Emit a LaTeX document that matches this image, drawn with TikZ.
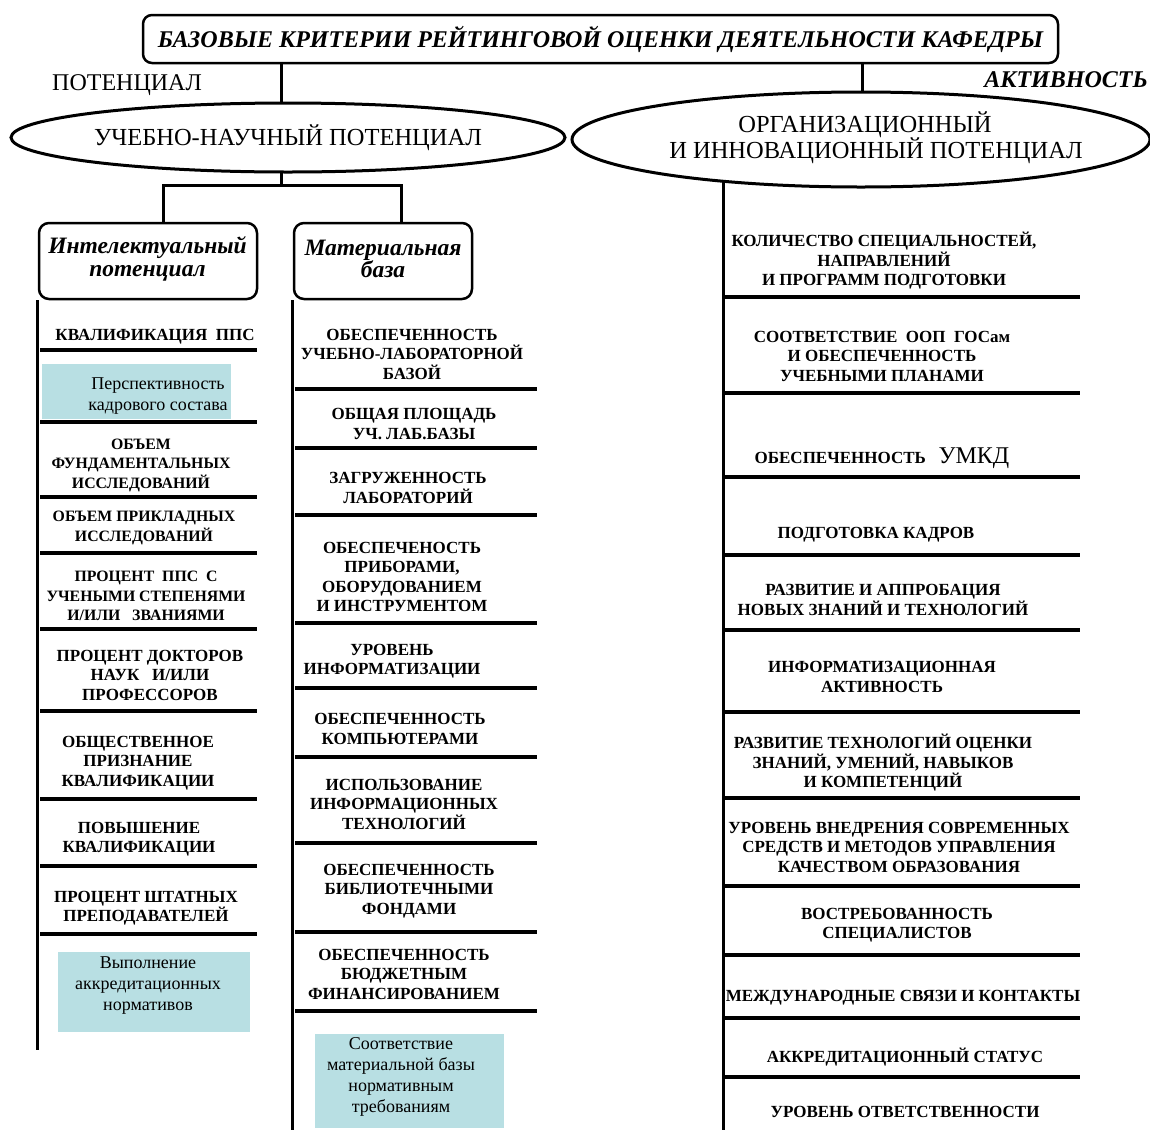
\documentclass[tikz,border=0pt]{standalone}
\usepackage{fontspec}
\setmainfont{Liberation Serif}
\usetikzlibrary{shapes.geometric,backgrounds}
\definecolor{blu}{RGB}{184,223,227}
\begin{document}
\begin{tikzpicture}[x=1pt,y=-1pt,
  crit/.style={font=\fontsize{17}{19.5}\selectfont\bfseries, align=center, inner sep=0pt},
  critn/.style={crit, font=\fontsize{15.8}{19.5}\selectfont\bfseries},
  soft/.style={font=\fontsize{18}{21}\selectfont, align=center, inner sep=0pt},
  bluebox/.style={fill=blu, inner sep=0pt, anchor=north west},
  sep/.style={line width=3.5pt},
  spine/.style={line width=3pt},
  conn/.style={line width=3pt},
  rbox/.style={draw, line width=2.5pt, rounded corners=10pt, inner sep=0pt, fill=white},
  oval/.style={draw, ellipse, line width=3pt, inner sep=0pt, fill=white},
]
\useasboundingbox (0,0) rectangle (1150,1130);

% top
\node[rbox, rounded corners=9pt, minimum width=915pt, minimum height=48pt] (title) at (600.5,39)
  {\fontsize{24}{28}\selectfont\bfseries\itshape БАЗОВЫЕ КРИТЕРИИ РЕЙТИНГОВОЙ ОЦЕНКИ ДЕЯТЕЛЬНОСТИ КАФЕДРЫ};
\node[inner sep=0pt, font=\fontsize{24}{26}\selectfont] (pot) at (127,85) {ПОТЕНЦИАЛ};
\node[inner sep=0pt, font=\fontsize{24}{26}\selectfont\bfseries\itshape] (akt) at (1066,80) {АКТИВНОСТЬ};

\node[oval, minimum width=554pt, minimum height=69pt] (lel) at (288,137.5)
  {\fontsize{24.5}{26}\selectfont УЧЕБНО-НАУЧНЫЙ ПОТЕНЦИАЛ};
\node[oval, minimum width=578pt, minimum height=95pt] (rel) at (861,139.5) {};
\node[inner sep=0pt, align=center, font=\fontsize{24.5}{26}\selectfont] (reltxt) at (876,138)
  {ОРГАНИЗАЦИОННЫЙ\hspace*{22pt}\\И ИННОВАЦИОННЫЙ ПОТЕНЦИАЛ};

\node[rbox, minimum width=218pt, minimum height=76pt] (box1) at (148,261) {};
\node[inner sep=0pt, align=center, font=\fontsize{23.5}{22.5}\selectfont\bfseries\itshape] (box1t) at (147.5,259)
  {Интелектуальный\\потенциал};
\node[rbox, minimum width=178pt, minimum height=76pt] (box2) at (383,261) {};
\node[inner sep=0pt, align=center, font=\fontsize{23.5}{22.5}\selectfont\bfseries\itshape] (box2t) at (383,259)
  {Материальная\\база};

% left column
\node[crit] (l1) at (155,337) {КВАЛИФИКАЦИЯ~~ППС};
\node[bluebox, minimum width=189pt, minimum height=55pt] (lb1) at (42,364) {};
\node[soft] (lb1t) at (158,396) {Перспективность\\кадрового состава};
\node[critn] (l3) at (141,465) {ОБЪЕМ\\ФУНДАМЕНТАЛЬНЫХ\\ИССЛЕДОВАНИЙ};
\node[critn] (l4) at (144,528) {ОБЪЕМ ПРИКЛАДНЫХ\\ИССЛЕДОВАНИЙ};
\node[critn] (l5) at (146,596) {ПРОЦЕНТ~~ППС~~С\\УЧЕНЫМИ СТЕПЕНЯМИ\\И/ИЛИ~~~ЗВАНИЯМИ};
\node[crit] (l6) at (150,675) {ПРОЦЕНТ ДОКТОРОВ\\НАУК~~~И/ИЛИ\\ПРОФЕССОРОВ};
\node[crit] (l7) at (138,763) {ОБЩЕСТВЕННОЕ\\ПРИЗНАНИЕ\\КВАЛИФИКАЦИИ};
\node[crit] (l8) at (139,839) {ПОВЫШЕНИЕ\\КВАЛИФИКАЦИИ};
\node[crit] (l9) at (146,908) {ПРОЦЕНТ ШТАТНЫХ\\ПРЕПОДАВАТЕЛЕЙ};
\node[bluebox, minimum width=192pt, minimum height=80pt] (lb2) at (58,952) {};
\node[soft] (lb2t) at (148,986) {Выполнение\\аккредитационных\\нормативов};

% middle column
\node[crit] (m1) at (412,354) {ОБЕСПЕЧЕННОСТЬ\\УЧЕБНО-ЛАБОРАТОРНОЙ\\БАЗОЙ};
\node[crit] (m2) at (414,424) {ОБЩАЯ ПЛОЩАДЬ\\УЧ. ЛАБ.БАЗЫ};
\node[crit] (m3) at (408,488) {ЗАГРУЖЕННОСТЬ\\ЛАБОРАТОРИЙ};
\node[crit] (m4) at (402,577) {ОБЕСПЕЧЕНОСТЬ\\ПРИБОРАМИ,\\ОБОРУДОВАНИЕМ\\И ИНСТРУМЕНТОМ};
\node[crit] (m5) at (392,661) {УРОВЕНЬ\\ИНФОРМАТИЗАЦИИ};
\node[crit] (m6) at (400,729) {ОБЕСПЕЧЕННОСТЬ\\КОМПЬЮТЕРАМИ};
\node[crit] (m7) at (404,804) {ИСПОЛЬЗОВАНИЕ\\ИНФОРМАЦИОННЫХ\\ТЕХНОЛОГИЙ};
\node[crit] (m8) at (409,891) {ОБЕСПЕЧЕННОСТЬ\\БИБЛИОТЕЧНЫМИ\\ФОНДАМИ};
\node[crit] (m9) at (404,974) {ОБЕСПЕЧЕННОСТЬ\\БЮДЖЕТНЫМ\\ФИНАНСИРОВАНИЕМ};
\node[bluebox, minimum width=189pt, minimum height=94pt] (mb) at (315,1034) {};
\node[soft] (mbt) at (401,1077) {Соответствие\\материальной базы\\нормативным\\требованиям};

% right column
\node[crit] (r1) at (884,261) {КОЛИЧЕСТВО СПЕЦИАЛЬНОСТЕЙ,\\НАПРАВЛЕНИЙ\\И ПРОГРАММ ПОДГОТОВКИ};
\node[crit] (r2) at (882,356) {СООТВЕТСТВИЕ~~ООП~~ГОСам\\И ОБЕСПЕЧЕННОСТЬ\\УЧЕБНЫМИ ПЛАНАМИ};
\node[crit] (r3) at (882,458) {ОБЕСПЕЧЕННОСТЬ~~~{\mdseries\fontsize{24}{24}\selectfont УМКД}};
\node[crit] (r4) at (876,535) {ПОДГОТОВКА КАДРОВ};
\node[crit] (r5) at (883,600) {РАЗВИТИЕ И АППРОБАЦИЯ\\НОВЫХ ЗНАНИЙ И ТЕХНОЛОГИЙ};
\node[crit] (r6) at (882,677) {ИНФОРМАТИЗАЦИОННАЯ\\АКТИВНОСТЬ};
\node[crit] (r7) at (883,763) {РАЗВИТИЕ ТЕХНОЛОГИЙ ОЦЕНКИ\\ЗНАНИЙ, УМЕНИЙ, НАВЫКОВ\\И КОМПЕТЕНЦИЙ};
\node[crit] (r8) at (899,847) {УРОВЕНЬ ВНЕДРЕНИЯ СОВРЕМЕННЫХ\\СРЕДСТВ И МЕТОДОВ УПРАВЛЕНИЯ\\КАЧЕСТВОМ ОБРАЗОВАНИЯ};
\node[crit] (r9) at (897,925) {ВОСТРЕБОВАННОСТЬ\\СПЕЦИАЛИСТОВ};
\node[crit] (r10) at (903,998) {МЕЖДУНАРОДНЫЕ СВЯЗИ И КОНТАКТЫ};
\node[crit] (r11) at (905,1057) {АККРЕДИТАЦИОННЫЙ СТАТУС};
\node[crit] (r12) at (905,1112) {УРОВЕНЬ ОТВЕТСТВЕННОСТИ};

\begin{scope}[on background layer]
  % connectors
  \draw[conn] (281,0 |- title.south) -- (281,0 |- lel.center);
  \draw[conn] (862,0 |- title.south) -- (862,0 |- rel.center);
  \draw[conn] (281,0 |- lel.center) -- (281,185);
  \draw[conn] (163,0 |- box1.center) -- (163,185) -- (401,185) -- (401,0 |- box2.center);
  % spines
  \draw[spine] (box1.south west) -- (box1.south west |- 0,1050);
  \draw[spine] (box2.south west) -- (box2.south west |- 0,1130);
  \draw[spine] (723,0 |- rel.center) -- (723,1130);
  % separators
  \foreach \yy in {350,422,497,553,629,711,799,866,934}
    \draw[sep] (40,\yy) -- (257,\yy);
  \foreach \yy in {389,448,515,623,688,757,843,932,1011}
    \draw[sep] (295,\yy) -- (537,\yy);
  \foreach \yy in {297,393,477,555,630,712,798,886,955,1018,1077}
    \draw[sep] (723,\yy) -- (1080,\yy);
\end{scope}
\end{tikzpicture}
\end{document}
